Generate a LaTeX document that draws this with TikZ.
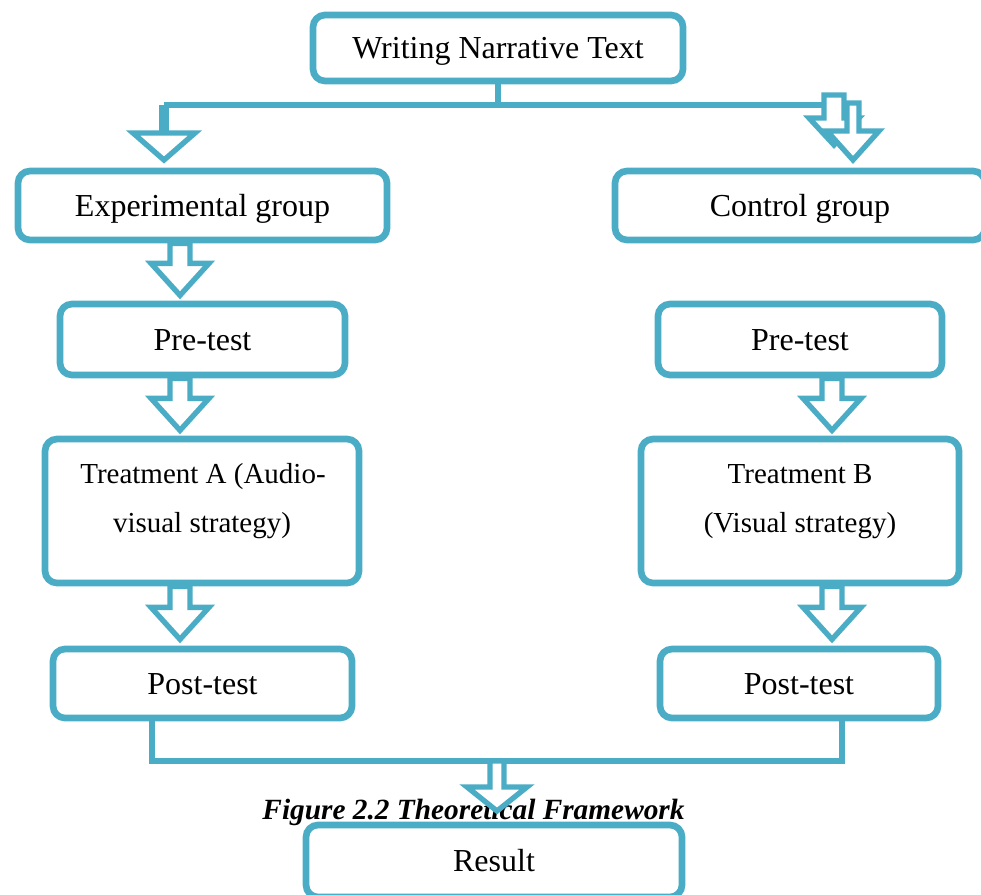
\documentclass[tikz,border=0pt]{standalone}
\usepackage{fontspec}
\setmainfont{Liberation Serif}
\definecolor{acc}{HTML}{4BACC6}
\tikzset{
  box/.style={draw=acc, line width=5pt, rounded corners=9pt, fill=white, inner sep=0pt,
    text height=15.9pt, text depth=0pt, font=\fontsize{24}{29}\selectfont},
  sz/.style 2 args={minimum width=#1*0.75pt, minimum height=#2*0.75pt},
  barrow/.style={draw=acc, line width=4pt, fill=white, line join=miter},
  conn/.style={draw=acc, line width=4.5pt},
  lbl/.style={font=\fontsize{21.75}{36}\selectfont, inner sep=0pt, anchor=base},
}
\newcommand\barw[5]{\draw[barrow] #1 ++(-#4,0) -- ++(0,#2) -- ++(#4-#5,0) -- ++(#5,#3) -- ++(#5,-#3) -- ++(#4-#5,0) -- ++(0,-#2) -- cycle;}
\begin{document}
\begin{tikzpicture}[x=0.75pt,y=-0.75pt]
\useasboundingbox (0,0) rectangle (981,895);
% boxes
\node[box, sz={370}{66}] (top) at (498,48) {Writing Narrative Text};
\node[box, sz={369}{69}] (exp) at (202.5,205.5) {Experimental group};
\node[box, sz={370}{69}] (ctl) at (800,205.5) {Control group};
\node[box, sz={285}{71}] (preL) at (202.5,339.5) {Pre-test};
\node[box, sz={284}{71}] (preR) at (800,339.5) {Pre-test};
\node[box, sz={314}{144}] (trA) at (202,511) {};
\node[box, sz={318}{144}] (trB) at (800,511) {};
\node[lbl] (tA1) at (203,483) {Treatment A (Audio-};
\node[lbl] (tA2) at (202,532) {visual strategy)};
\node[lbl] (tB1) at (800,483) {Treatment B};
\node[lbl] (tB2) at (800,532) {(Visual strategy)};
\node[box, sz={299}{69}] (postL) at (202.5,683.5) {Post-test};
\node[box, sz={278}{69}] (postR) at (799,683.5) {Post-test};
\node[box, sz={376}{72}] (res) at (494,861) {Result};
% top split connector
\coordinate (hl) at (164,105);
\coordinate (hr) at (826,105);
\coordinate (lt) at (164,133);
\draw[conn] (top.south) -- (top.south |- hl);
\draw[conn] (hr) -- (hl);
\draw[acc, line width=7.5pt] (hl) -- (lt);
\draw[barrow] (lt) ++(-31,0) -- ++(62,0) -- ++(-31,27) -- cycle;
\barw{(834,95)}{23}{27}{10}{25}
\barw{(853,103)}{28}{29}{6}{26}
% column arrows
\coordinate (ax) at (180,0);
\coordinate (bx) at (832,0);
\barw{(exp.south -| ax)}{20}{32}{10}{29}
\barw{(preL.south -| ax)}{20}{32}{10}{29}
\barw{(trA.south -| ax)}{21}{32}{10}{29}
\barw{(preR.south -| bx)}{20}{32}{10}{29}
\barw{(trB.south -| bx)}{21}{32}{10}{29}
% bottom join
\coordinate (bl) at (152,761);
\coordinate (br) at (842,761);
\coordinate (bm) at (497,761);
\draw[conn] (postL.south -| bl) -- (bl) -- (br) -- (postR.south -| br);
\node[inner sep=0pt, anchor=base, font=\fontsize{22}{26}\selectfont\bfseries\itshape] (cap) at (473.5,819) {Figure 2.2 Theoretical Framework};
\barw{(bm)}{26}{24}{7}{30}
\end{tikzpicture}
\end{document}
